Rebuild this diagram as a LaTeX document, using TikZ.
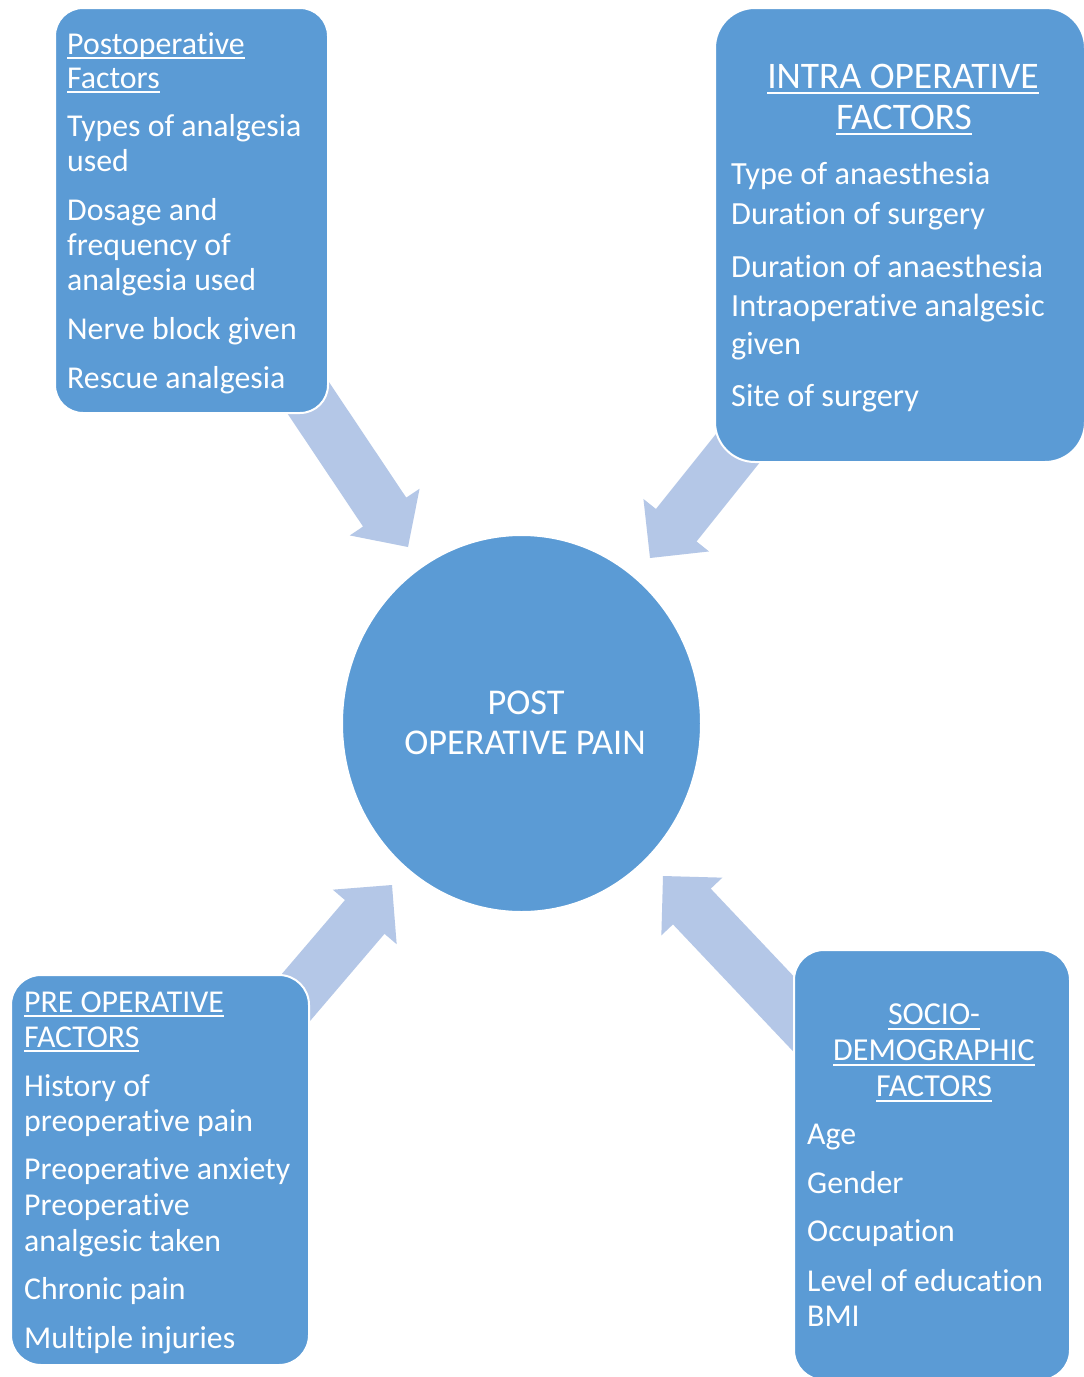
\documentclass[tikz,border=0pt]{standalone}
\usepackage{fontspec}
\setmainfont{Carlito}[Ligatures=NoCommon]
\usetikzlibrary{calc,shapes.geometric}
\definecolor{boxblue}{HTML}{5B9BD5}
\definecolor{arrowblue}{HTML}{B4C7E7}
\newsavebox\ulsave
\newcommand\ulx[2]{\sbox\ulsave{#2}\rlap{\rule[#1]{\wd\ulsave}{2pt}}\usebox\ulsave}
\newcommand\blockarrow[2]{%
  \coordinate (#2-base) at ($(#2)!42pt!(#1)$);
  \fill[arrowfill] ($(#1)!26pt!90:(#2)$) -- ($(#2-base)!26pt!90:(#2)$)
    -- ($(#2-base)!42pt!90:(#2)$) -- (#2) -- ($(#2-base)!42pt!-90:(#2)$)
    -- ($(#2-base)!26pt!-90:(#2)$) -- ($(#1)!26pt!-90:(#2)$) -- cycle;}
\tikzset{
  arrowfill/.style={fill=arrowblue},
  factorbox/.style={rectangle, fill=boxblue, draw=white, line width=2pt, inner sep=0pt},
  txtA/.style={text=white, inner sep=0pt, anchor=base west, font=\fontsize{31.8}{35}\selectfont},
  txtB/.style={text=white, inner sep=0pt, anchor=base west, font=\fontsize{32.3}{39}\selectfont},
  titleC/.style={text=white, inner sep=0pt, anchor=base, font=\fontsize{36.3}{40}\selectfont},
  titleI/.style={text=white, inner sep=0pt, anchor=base, font=\fontsize{37.5}{40}\selectfont},
  titleA/.style={text=white, inner sep=0pt, anchor=base, font=\fontsize{32}{35}\selectfont},
}
\begin{document}
\begin{tikzpicture}[x=1pt,y=-1pt]
\useasboundingbox[fill=white] (0,0) rectangle (1084,1377);
% arrow end points
\coordinate (a1t) at (297,381);  \coordinate (a1h) at (408,547);
\coordinate (a2t) at (762,418);  \coordinate (a2h) at (650,558);
\coordinate (a3t) at (275,1022); \coordinate (a3h) at (392,885);
\coordinate (a4t) at (821,1043); \coordinate (a4h) at (663,876);
\blockarrow{a1t}{a1h}
\blockarrow{a2t}{a2h}
\blockarrow{a3t}{a3h}
\blockarrow{a4t}{a4h}
% boxes
\node[factorbox, rounded corners=28pt, minimum width=273pt, minimum height=405pt] (post) at (191.5,210.5) {};
\node[factorbox, rounded corners=40pt, minimum width=370pt, minimum height=454pt] (intra) at (900,235) {};
\node[factorbox, rounded corners=30pt, minimum width=298pt, minimum height=390pt] (pre) at (160,1170) {};
\node[factorbox, rounded corners=30pt, minimum width=276pt, minimum height=430pt] (socio) at (932,1165) {};
\node[ellipse, fill=boxblue, draw=white, line width=2pt, inner sep=0pt, minimum width=359pt, minimum height=377pt] (pain) at (521.5,723.5) {};
% centre text
\node[titleC] (painA) at (526,714) {POST};
\node[titleC] (painB) at (525,754) {OPERATIVE PAIN};
% postoperative
\node[txtA] (postT1) at (67,54) {\ulx{-5pt}{Postoperative}};
\node[txtA] (postT2) at (67,88) {\ulx{-5pt}{Factors}};
\foreach \yy/\mytext in {136/Types of analgesia, 171/used, 220/Dosage and, 255/frequency of, 290/analgesia used, 339/Nerve block given, 388/Rescue analgesia}
  \node[txtA] (post-\yy) at (67,\yy) {\mytext};
% intra operative
\node[titleI] (intraT1) at (903,88) {\ulx{-6pt}{INTRA OPERATIVE}};
\node[titleI] (intraT2) at (904,129) {\ulx{-6pt}{FACTORS}};
\foreach \yy/\mytext in {184/Type of anaesthesia, 224/Duration of surgery, 277/Duration of anaesthesia, 316/Intraoperative analgesic, 354/given, 406/Site of surgery}
  \node[txtB] (intra-\yy) at (731,\yy) {\mytext};
% pre operative
\node[txtA] (preT1) at (24,1012) {\ulx{-5pt}{PRE OPERATIVE}};
\node[txtA] (preT2) at (24,1047) {\ulx{-5pt}{FACTORS}};
\foreach \yy/\mytext in {1096/History of, 1131/preoperative pain, 1179/Preoperative anxiety, 1215/Preoperative, 1251/analgesic taken, 1299/Chronic pain, 1348/Multiple injuries}
  \node[txtA] (pre-\yy) at (24,\yy) {\mytext};
% socio-demographic
\node[titleA] (socT1) at (934,1024) {\ulx{-6pt}{SOCIO-}};
\node[titleA] (socT2) at (934,1060) {\ulx{-6pt}{DEMOGRAPHIC}};
\node[titleA] (socT3) at (934,1096) {\ulx{-6pt}{FACTORS}};
\foreach \yy/\mytext in {1144/Age, 1193/Gender, 1241/Occupation, 1291/Level of education, 1326/BMI}
  \node[txtA] (soc-\yy) at (807,\yy) {\mytext};
\end{tikzpicture}
\end{document}
